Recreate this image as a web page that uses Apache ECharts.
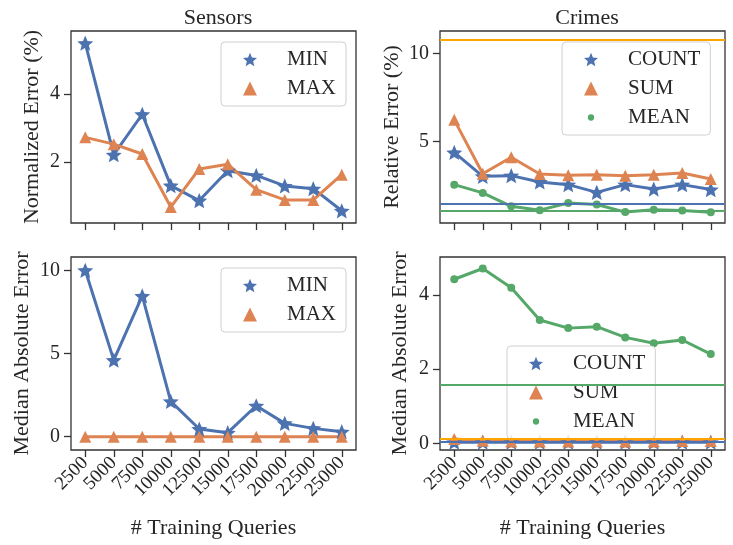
<!DOCTYPE html>
<html>
<head>
<meta charset="utf-8">
<script src="https://cdn.jsdelivr.net/npm/echarts@6/dist/echarts.min.js"></script>
<style>
  html, body { margin: 0; padding: 0; background: #fff; }
  #chart { width: 733px; height: 545px; }
</style>
</head>
<body>
<div id="chart"></div>
<script>
// x categories
var queries = ["2500", "5000", "7500", "10000", "12500", "15000", "17500", "20000", "22500", "25000"];

// Sensors - normalized error (%)
var sensorsNormMin = [5.49, 2.21, 3.40, 1.30, 0.86, 1.74, 1.60, 1.29, 1.21, 0.56];
var sensorsNormMax = [2.72, 2.52, 2.23, 0.67, 1.79, 1.93, 1.18, 0.88, 0.88, 1.62];

// Crimes - relative error (%)
var crimesRelCount = [4.38, 3.02, 3.06, 2.70, 2.55, 2.11, 2.55, 2.30, 2.55, 2.27];
var crimesRelSum = [6.23, 3.17, 4.11, 3.15, 3.08, 3.11, 3.06, 3.11, 3.21, 2.87];
var crimesRelMean = [2.55, 2.08, 1.32, 1.10, 1.51, 1.42, 0.99, 1.12, 1.08, 0.98];
var crimesRelBaseCount = 1.44;
var crimesRelBaseSum = 10.78;
var crimesRelBaseMean = 1.06;

// Sensors - median absolute error
var sensorsMaeMin = [10.0, 4.60, 8.46, 2.12, 0.46, 0.24, 1.86, 0.80, 0.50, 0.30];
var sensorsMaeMax = [0, 0, 0, 0, 0, 0, 0, 0, 0, 0];

// Crimes - median absolute error
var crimesMaeCount = [0.03, 0.03, 0.03, 0.03, 0.03, 0.03, 0.03, 0.03, 0.03, 0.03];
var crimesMaeSum = [0.12, 0.07, 0.05, 0.05, 0.05, 0.05, 0.05, 0.05, 0.06, 0.06];
var crimesMaeMean = [4.43, 4.72, 4.20, 3.33, 3.11, 3.15, 2.86, 2.70, 2.79, 2.41];
var crimesMaeBaseCount = 0.05;
var crimesMaeBaseSum = 0.12;
var crimesMaeBaseMean = 1.59;

// y tick labels per panel
var ticksTL = [2, 4];
var ticksTR = [5, 10];
var ticksBL = [0, 5, 10];
var ticksBR = [0, 2, 4];

var BLUE = "#4c72b0";
var ORANGE = "#dd8452";
var GREEN = "#55a868";
var BASE_ORANGE = "#ffa500";
var TEXT = "#262626";
var FONT = "Liberation Serif";

var star = "path://M50,0L63.23,31.80L97.55,34.55L71.40,56.95L79.39,90.45L50,72.5L20.61,90.45L28.60,56.95L2.45,34.55L36.77,31.80Z";
// small dot inside a wider box so the legend icon stays small
var dot = "path://M0,0M20,20M5.5,10A4.5,4.5,0,1,0,14.5,10A4.5,4.5,0,1,0,5.5,10Z";

var grids = [
  { left: 71, top: 31, width: 285, height: 192 },
  { left: 440, top: 31, width: 285, height: 192 },
  { left: 71, top: 257, width: 285, height: 193 },
  { left: 440, top: 257, width: 285, height: 193 }
];
grids.forEach(function (g) {
  g.show = true;
  g.borderColor = "#333";
  g.borderWidth = 1.3;
  g.backgroundColor = "transparent";
});

function xAxisFor(idx, bottom) {
  return {
    type: "category",
    gridIndex: idx,
    data: queries,
    boundaryGap: true,
    name: bottom ? "# Training Queries" : "",
    nameLocation: "middle",
    nameGap: 67,
    nameTextStyle: { fontFamily: FONT, fontSize: 22, color: TEXT },
    axisLine: { show: false, onZero: false },
    axisTick: { show: true, alignWithLabel: true, length: 7, lineStyle: { color: "#333", width: 1.3 } },
    axisLabel: {
      show: bottom,
      interval: 0,
      rotate: 45,
      margin: 10,
      fontFamily: FONT,
      fontSize: 19,
      color: TEXT
    },
    splitLine: { show: false }
  };
}

function yAxisFor(idx, name, gap, min, max, ticks) {
  return {
    type: "value",
    gridIndex: idx,
    min: min,
    max: max,
    name: name,
    nameLocation: "middle",
    nameGap: gap,
    nameTextStyle: { fontFamily: FONT, fontSize: 22, color: TEXT },
    axisLine: { show: false },
    axisTick: { show: true, length: 7, customValues: ticks, lineStyle: { color: "#333", width: 1.3 } },
    axisLabel: { customValues: ticks, margin: 11, fontFamily: FONT, fontSize: 20, color: TEXT },
    splitLine: { show: false }
  };
}

function lineSeries(name, idx, data, color, symbol, size, base, baseColor) {
  var s = {
    name: name,
    type: "line",
    xAxisIndex: idx,
    yAxisIndex: idx,
    data: data,
    color: color,
    symbol: symbol,
    symbolSize: size,
    symbolKeepAspect: true,
    showAllSymbol: true,
    lineStyle: { width: 3, color: color },
    itemStyle: { color: color },
    z: 3
  };
  if (base !== undefined) {
    s.markLine = {
      silent: true,
      symbol: "none",
      label: { show: false },
      lineStyle: { type: "solid", width: 1.8, color: baseColor || color },
      data: [{ yAxis: base }]
    };
  }
  return s;
}

function legendFor(left, top, items) {
  return {
    orient: "vertical",
    left: left,
    top: top,
    padding: [7, 10, 7, 22],
    itemGap: 8,
    itemWidth: 14,
    itemHeight: 14,
    backgroundColor: "rgba(255,255,255,0.8)",
    borderColor: "#d0d0d0",
    borderWidth: 1,
    borderRadius: 4,
    textStyle: { fontFamily: FONT, fontSize: 21, color: TEXT, padding: [0, 0, 0, 25] },
    data: items
  };
}

var myChart = echarts.init(document.getElementById("chart"));

var option = {
  animation: false,
  backgroundColor: "#fff",
  title: [
    { text: "Sensors", left: 213, top: 2, textAlign: "center", textStyle: { fontFamily: FONT, fontSize: 22, fontWeight: "normal", color: TEXT } },
    { text: "Crimes", left: 582, top: 2, textAlign: "center", textStyle: { fontFamily: FONT, fontSize: 22, fontWeight: "normal", color: TEXT } }
  ],
  grid: grids,
  legend: [
    legendFor(221, 42, [{ name: "MIN", icon: star }, { name: "MAX", icon: "triangle" }]),
    legendFor(562, 42, [{ name: "COUNT", icon: star }, { name: "SUM", icon: "triangle" }, { name: "MEAN", icon: dot }]),
    legendFor(221, 268, [{ name: "MIN", icon: star }, { name: "MAX", icon: "triangle" }]),
    legendFor(507, 346, [{ name: "COUNT", icon: star }, { name: "SUM", icon: "triangle" }, { name: "MEAN", icon: dot }])
  ],
  xAxis: [xAxisFor(0, false), xAxisFor(1, false), xAxisFor(2, true), xAxisFor(3, true)],
  yAxis: [
    yAxisFor(0, "Normalized Error (%)", 28, 0.2, 5.85, ticksTL),
    yAxisFor(1, "Relative Error (%)", 37, 0.37, 11.28, ticksTR),
    yAxisFor(2, "Median Absolute Error", 38, -0.8, 10.8, ticksBL),
    yAxisFor(3, "Median Absolute Error", 29, -0.18, 5.03, ticksBR)
  ],
  series: [
    lineSeries("MIN", 0, sensorsNormMin, BLUE, star, 16),
    lineSeries("MAX", 0, sensorsNormMax, ORANGE, "triangle", 12),
    lineSeries("COUNT", 1, crimesRelCount, BLUE, star, 16, crimesRelBaseCount),
    lineSeries("SUM", 1, crimesRelSum, ORANGE, "triangle", 12, crimesRelBaseSum, BASE_ORANGE),
    lineSeries("MEAN", 1, crimesRelMean, GREEN, "circle", 8, crimesRelBaseMean),
    lineSeries("MIN", 2, sensorsMaeMin, BLUE, star, 16),
    lineSeries("MAX", 2, sensorsMaeMax, ORANGE, "triangle", 12),
    lineSeries("COUNT", 3, crimesMaeCount, BLUE, star, 16, crimesMaeBaseCount),
    lineSeries("SUM", 3, crimesMaeSum, ORANGE, "triangle", 12, crimesMaeBaseSum, BASE_ORANGE),
    lineSeries("MEAN", 3, crimesMaeMean, GREEN, "circle", 8, crimesMaeBaseMean)
  ]
};

myChart.setOption(option);
</script>
</body>
</html>
